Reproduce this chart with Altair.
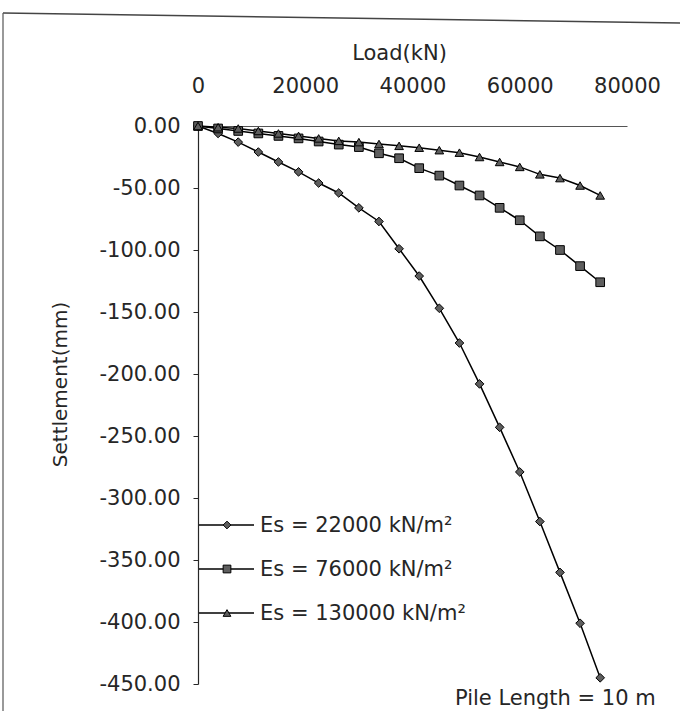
import altair as alt
import pandas as pd

# Applied load (kN) at each step
loads = [0, 3750, 7500, 11250, 15000, 18750, 22500, 26250, 30000, 33750, 37500,
         41250, 45000, 48750, 52500, 56250, 60000, 63750, 67500, 71250, 75000]

# Pile head settlement (mm) for each soil modulus
settle_22000 = [0, -6, -13, -21, -29, -37, -46, -54, -66, -77, -99,
                -121, -147, -175, -208, -243, -279, -319, -360, -401, -445]
settle_76000 = [0, -2, -4, -6, -8, -10, -12.5, -15, -17, -22, -26,
                -34, -40, -48, -56, -66, -76, -89, -100, -113, -126]
settle_130000 = [0, -1, -2, -4, -6, -8, -10, -12, -13, -14.5, -16,
                 -17.5, -19.5, -21.5, -25, -29, -33, -39, -42, -48, -56]

series_names = ["Es = 22000 kN/m²", "Es = 76000 kN/m²", "Es = 130000 kN/m²"]
marker_shapes = ["diamond", "square", "triangle-up"]
x_ticks = [0, 20000, 40000, 60000, 80000]
y_ticks = [0, -50, -100, -150, -200, -250, -300, -350, -400, -450]
note_text = ["Pile Length = 10 m"]

rows = []
for name, vals in zip(series_names, [settle_22000, settle_76000, settle_130000]):
    for ld, s in zip(loads, vals):
        rows.append({"series": name, "load": ld, "settlement": s})
df = pd.DataFrame(rows)
legend_df = pd.DataFrame({"series": series_names})

FONT = "DejaVu Sans"
TEXT = "#262626"
MARKER_FILL = "#5e5e5e"

x_enc = alt.X(
    "load:Q",
    scale=alt.Scale(domain=[0, 80000], nice=False),
    axis=alt.Axis(
        orient="top", values=x_ticks, format="d", title="Load(kN)",
        grid=False, ticks=False, labelPadding=30, labelFlush=False,
        domainColor="#555", domainWidth=1, labelFont=FONT, labelFontSize=21,
        labelColor=TEXT, titleFont=FONT, titleFontSize=21,
        titleFontWeight="normal", titleColor=TEXT, titleX=201, titleY=-67,
        titleAlign="center", titleBaseline="alphabetic",
    ),
)
y_enc = alt.Y(
    "settlement:Q",
    scale=alt.Scale(domain=[-450, 0], nice=False),
    axis=alt.Axis(
        values=y_ticks, grid=False, tickSize=5, tickColor=TEXT,
        domainColor=TEXT, domainWidth=1.2, labelPadding=13, labelFlush=False,
        labelExpr="(datum.value < 0 ? '-' : '') + format(abs(datum.value), '.2f')",
        labelFont=FONT, labelFontSize=21, labelColor=TEXT,
        title="Settlement(mm)", titleFont=FONT, titleFontSize=20,
        titleFontWeight="normal", titleColor=TEXT, titleAngle=-90,
        titleX=-138, titleY=258, titleAlign="center", titleBaseline="middle",
    ),
)
shape_enc = alt.Shape(
    "series:N",
    scale=alt.Scale(domain=series_names, range=marker_shapes),
    legend=None,
)

base = alt.Chart(df)

lines = base.mark_line(color="black", strokeWidth=1.5).encode(
    x=x_enc, y=y_enc, detail="series:N", order="load:Q"
)
points = base.mark_point(
    filled=True, fill=MARKER_FILL, stroke="black", strokeWidth=1,
    opacity=1, fillOpacity=1, size=75
).encode(x=x_enc, y=y_enc, shape=shape_enc)

main = alt.layer(lines, points)

# Key in the lower left of the plot: one row per series, line + marker + label
row_y = alt.Y(
    "series:N",
    scale=alt.Scale(type="point", domain=series_names, range=[399, 487], padding=0),
    axis=None,
)
key_base = alt.Chart(legend_df)
key_lines = key_base.mark_rule(color="black", strokeWidth=1.5).encode(
    x=alt.value(1), x2=alt.value(56), y=row_y
)
key_marks = key_base.mark_point(
    filled=True, fill=MARKER_FILL, stroke="black", strokeWidth=1,
    opacity=1, fillOpacity=1, size=60
).encode(x=alt.value(29), y=row_y, shape=shape_enc)
key_text = key_base.mark_text(
    font=FONT, fontSize=21, color=TEXT, align="left", baseline="middle", dy=1
).encode(x=alt.value(62), y=row_y, text="series:N")
key = alt.layer(key_lines, key_marks, key_text)

note = alt.Chart(pd.DataFrame({"t": note_text})).mark_text(
    font=FONT, fontSize=21, color=TEXT, align="left", baseline="alphabetic"
).encode(x=alt.value(257), y=alt.value(579), text="t:N")

frame_top = alt.Chart(pd.DataFrame({"k": [0]})).mark_rule(
    color="#444", strokeWidth=1.5
).encode(x=alt.value(-195), y=alt.value(-113), x2=alt.value(482), y2=alt.value(-103))
frame_left = alt.Chart(pd.DataFrame({"k": [0]})).mark_rule(
    color="#555", strokeWidth=1.2
).encode(x=alt.value(-195), y=alt.value(-113), x2=alt.value(-195), y2=alt.value(585))

chart = (
    alt.layer(frame_top, frame_left, main, key, note)
    .resolve_scale(y="independent")
    .properties(
        width=429, height=558,
        autosize=alt.AutoSizeParams(type="none"),
        padding={"left": 198, "top": 126, "right": 53, "bottom": 27},
        background="white",
    )
    .configure_view(stroke=None)
)

chart.save("out.html", embed_options={"renderer": "svg", "actions": False})
